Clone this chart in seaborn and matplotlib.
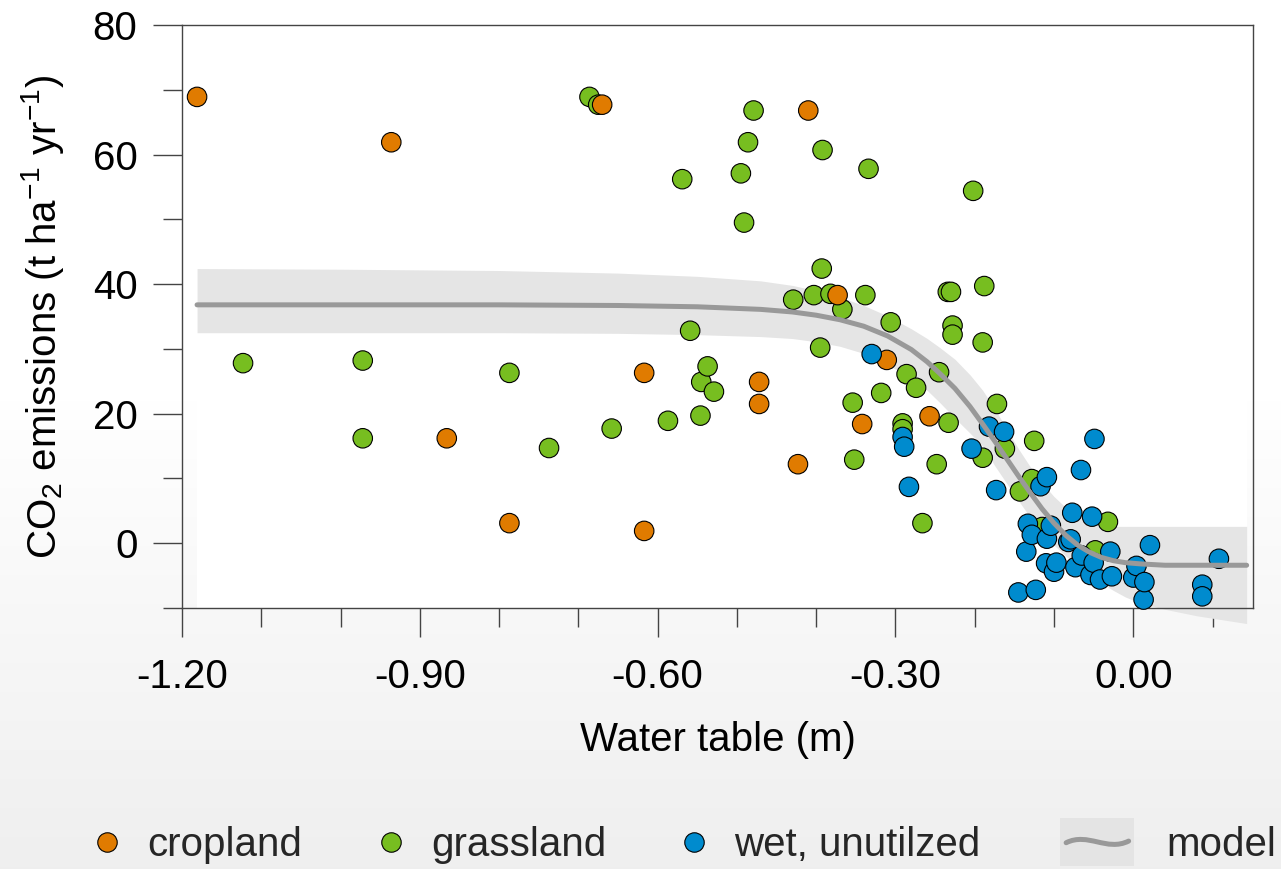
import numpy as np
import pandas as pd
import matplotlib
matplotlib.use("Agg")
import matplotlib.pyplot as plt
import seaborn as sns
from matplotlib.lines import Line2D
from matplotlib.patches import Rectangle, PathPatch
from matplotlib.path import Path
from matplotlib.legend_handler import HandlerBase

# ---- observations: water table (m) and CO2 emissions (t ha-1 yr-1) ----
crop_x = [-1.181, -0.936, -0.866, -0.787, -0.670, -0.410, -0.373, -0.311,
          -0.617, -0.617, -0.472, -0.472, -0.342, -0.423, -0.257]
crop_y = [68.9, 61.9, 16.2, 3.1, 67.7, 66.8, 38.3, 28.3,
          26.3, 1.9, 24.9, 21.5, 18.4, 12.2, 19.6]

grass_x = [-1.123, -0.972, -0.972, -0.787, -0.737, -0.686, -0.675, -0.658,
           -0.587, -0.569, -0.559, -0.546, -0.545, -0.537, -0.529, -0.495,
           -0.491, -0.486, -0.479, -0.429, -0.403, -0.395, -0.393, -0.392,
           -0.382, -0.367, -0.354, -0.352, -0.338, -0.334, -0.318, -0.306,
           -0.291, -0.291, -0.286, -0.274, -0.266, -0.248, -0.245, -0.234,
           -0.230, -0.233, -0.228, -0.228, -0.202, -0.190, -0.188, -0.190,
           -0.172, -0.162, -0.143, -0.128, -0.125, -0.115, -0.048, -0.032]
grass_y = [27.8, 28.2, 16.2, 26.3, 14.7, 68.9, 67.7, 17.7,
           18.9, 56.2, 32.8, 19.7, 24.9, 27.3, 23.4, 57.1,
           49.5, 61.9, 66.8, 37.6, 38.3, 30.2, 42.4, 60.7,
           38.5, 36.1, 21.7, 12.9, 38.3, 57.8, 23.2, 34.1,
           18.5, 17.6, 26.1, 24.0, 3.1, 12.2, 26.4, 38.8,
           38.8, 18.6, 33.6, 32.2, 54.4, 31.0, 39.7, 13.2,
           21.5, 14.6, 8.0, 9.9, 15.8, 2.5, -1.1, 3.3]

wet_x = [-0.330, -0.291, -0.289, -0.283, -0.204, -0.182, -0.173, -0.163,
         -0.145, -0.135, -0.133, -0.128, -0.123, -0.117, -0.110, -0.109,
         -0.109, -0.104, -0.100, -0.097, -0.082, -0.079, -0.077, -0.073,
         -0.066, -0.065, -0.054, -0.052, -0.050, -0.049, -0.042, -0.029,
         -0.027, 0.000, 0.004, 0.013, 0.014, 0.021, 0.087, 0.087, 0.108]
wet_y = [29.2, 16.4, 14.9, 8.7, 14.6, 18.0, 8.2, 17.2,
         -7.6, -1.3, 3.0, 1.3, -7.2, 8.8, -3.1, 10.2,
         0.7, 2.7, -4.4, -3.0, 0.2, 0.6, 4.7, -3.7,
         11.3, -1.9, -4.9, 4.1, -3.0, 16.1, -5.6, -1.3,
         -5.1, -5.3, -3.5, -8.7, -6.0, -0.3, -6.4, -8.2, -2.4]

# ---- fitted model curve with its confidence band ----
model_x = [-1.181, -1.0, -0.8, -0.65, -0.55, -0.47, -0.43, -0.40, -0.37, -0.34,
           -0.31, -0.28, -0.26, -0.244, -0.225, -0.206, -0.19, -0.175, -0.16,
           -0.145, -0.13, -0.115, -0.10, -0.085, -0.07, -0.055, -0.04, -0.025,
           -0.01, 0.01, 0.04, 0.08, 0.143]
model_y = [36.8, 36.8, 36.8, 36.7, 36.5, 36.1, 35.7, 35.2, 34.5, 33.5,
           32.0, 29.9, 28.0, 26.2, 23.9, 21.1, 18.4, 15.8, 13.1,
           10.4, 7.8, 5.3, 3.1, 1.2, -0.3, -1.4, -2.2, -2.7,
           -3.0, -3.2, -3.4, -3.4, -3.4]
band_hi = [42.4, 42.3, 42.1, 41.7, 41.2, 40.5, 39.8, 39.0, 38.0, 36.7,
           35.1, 33.1, 31.6, 30.2, 28.4, 26.0, 23.6, 20.8, 17.7,
           14.6, 11.8, 9.3, 7.2, 5.5, 4.1, 3.2, 2.7, 2.6,
           2.6, 2.6, 2.6, 2.6, 2.6]
band_lo = [32.5, 32.5, 32.5, 32.4, 32.2, 31.9, 31.6, 31.1, 30.4, 29.3,
           27.6, 25.4, 23.6, 21.7, 19.3, 17.0, 15.0, 12.0, 9.3,
           6.6, 4.0, 1.7, -0.3, -2.0, -3.4, -4.9, -6.2, -7.3,
           -8.3, -9.3, -10.2, -11.2, -12.4]

# ---- axis ticks ----
xticks_major = [-1.2, -0.9, -0.6, -0.3, 0.0]
xtick_labels = ["-1.20", "-0.90", "-0.60", "-0.30", "0.00"]
xticks_minor = [-1.1, -1.0, -0.8, -0.7, -0.5, -0.4, -0.2, -0.1, 0.1]
yticks_major = [0, 20, 40, 60, 80]
yticks_minor = [-10, 10, 30, 50, 70]

land_uses = ["cropland", "grassland", "wet, unutilzed"]
colors = {"cropland": "#E07B00", "grassland": "#77BE20", "wet, unutilzed": "#008BCE"}

# grassland drawn first, then cropland, wet sites on top
df = pd.concat([
    pd.DataFrame({"water_table": grass_x, "co2": grass_y, "land_use": "grassland"}),
    pd.DataFrame({"water_table": crop_x, "co2": crop_y, "land_use": "cropland"}),
    pd.DataFrame({"water_table": wet_x, "co2": wet_y, "land_use": "wet, unutilzed"}),
], ignore_index=True)

sns.set_theme(style="white")
plt.rcParams["font.family"] = ["Liberation Sans", "DejaVu Sans"]
plt.rcParams["mathtext.fontset"] = "custom"
plt.rcParams["mathtext.rm"] = "Liberation Sans"
plt.rcParams["mathtext.it"] = "Liberation Sans:italic"
plt.rcParams["mathtext.bf"] = "Liberation Sans:bold"

FS = 29
W, H = 1281, 869
fig = plt.figure(figsize=(W / 100, H / 100), dpi=100)
fig.patch.set_facecolor("white")

# soft vertical background shading, placed pixel for pixel
rows = np.arange(H)
shade = np.interp(rows, [0, 400, H - 1], [1.0, 1.0, 0.937])
bg_img = np.repeat(np.tile(shade[:, None], (1, W))[:, :, None], 3, axis=2)
fig.figimage(bg_img, xo=0, yo=0, origin="upper", zorder=-10)

ax = fig.add_axes([182 / W, 1 - 608 / H, (1253 - 182) / W, (608 - 25) / H])
ax.set_facecolor("none")
ax.set_xlim(-1.2, 0.151)
ax.set_ylim(-10, 80)

# white panel behind the model range
ax.axvspan(model_x[0], model_x[-1], color="white", zorder=0, lw=0)

# confidence band
ax.fill_between(model_x, band_lo, band_hi, color="#E5E5E5", lw=0, zorder=1, clip_on=False)

sns.scatterplot(data=df, x="water_table", y="co2", hue="land_use",
                hue_order=land_uses, palette=colors, s=197,
                edgecolor="black", linewidth=0.8, legend=False, ax=ax,
                zorder=3, clip_on=False)

sns.lineplot(x=model_x, y=model_y, sort=False, estimator=None, color="#999999",
             lw=3.6, solid_capstyle="round", solid_joinstyle="round", ax=ax, zorder=4)

# spines and ticks
for s in ax.spines.values():
    s.set_visible(True)
    s.set_color("#444444")
    s.set_linewidth(1.0)

ax.set_xticks(xticks_major)
ax.set_xticklabels(xtick_labels)
ax.set_xticks(xticks_minor, minor=True)
ax.set_yticks(yticks_major)
ax.set_yticklabels([str(v) for v in yticks_major])
ax.set_yticks(yticks_minor, minor=True)
ax.tick_params(axis="both", which="both", direction="out", color="#444444", width=1.0,
               labelsize=FS, labelcolor="black")
ax.tick_params(axis="both", which="major", length=21)
ax.tick_params(axis="both", which="minor", length=14)
ax.tick_params(axis="x", which="major", pad=15, bottom=True)
ax.tick_params(axis="x", which="minor", bottom=True)
ax.tick_params(axis="y", which="major", pad=11, left=True)
ax.tick_params(axis="y", which="minor", left=True)
ax.grid(False)

ax.set_xlabel("Water table (m)", fontsize=FS, labelpad=18, color="black")
ax.set_ylabel("CO$_2$ emissions (t ha$^{-1}$ yr$^{-1}$)", fontsize=FS,
              labelpad=19, color="black")


class ModelHandler(HandlerBase):
    """Grey band with a wavy grey line, as the model legend key."""

    def create_artists(self, legend, orig_handle, xdescent, ydescent,
                       width, height, fontsize, trans):
        yc = height / 2 - ydescent
        x0 = -33.0
        rect = Rectangle((x0, yc - 17.0), 53.0, 34.0, facecolor="#E4E4E4",
                         edgecolor="none", transform=trans)
        L, a = 45.0, 3.0
        sx = x0 + 4.3
        verts = [(sx, yc - 0.2 * a), (sx + 0.35 * L, yc + 2.4 * a),
                 (sx + 0.65 * L, yc - 2.4 * a), (sx + L, yc + 0.2 * a)]
        codes = [Path.MOVETO, Path.CURVE4, Path.CURVE4, Path.CURVE4]
        wave = PathPatch(Path(verts, codes), facecolor="none", edgecolor="#999999",
                         lw=3.6, capstyle="round", transform=trans)
        return [rect, wave]


model_key = object()
legend_items = [
    (Line2D([], [], ls="", marker="o", markersize=14, markerfacecolor=colors["cropland"],
            markeredgecolor="black", markeredgewidth=0.8), "cropland", 86.5, None),
    (Line2D([], [], ls="", marker="o", markersize=14, markerfacecolor=colors["grassland"],
            markeredgecolor="black", markeredgewidth=0.8), "grassland", 370.5, None),
    (Line2D([], [], ls="", marker="o", markersize=14, markerfacecolor=colors["wet, unutilzed"],
            markeredgecolor="black", markeredgewidth=0.8), "wet, unutilzed", 673.5, None),
    (model_key, "model", 1106.0, {model_key: ModelHandler()}),
]
for handle, label, xpx, hmap in legend_items:
    fig.legend(handles=[handle], labels=[label], loc="center left",
               bbox_to_anchor=(xpx / W, 1 - 845 / H), frameon=False,
               borderpad=0, borderaxespad=0, handlelength=1.0, handletextpad=0.5,
               fontsize=FS, handler_map=hmap)

fig.savefig("out.png", dpi=100)
